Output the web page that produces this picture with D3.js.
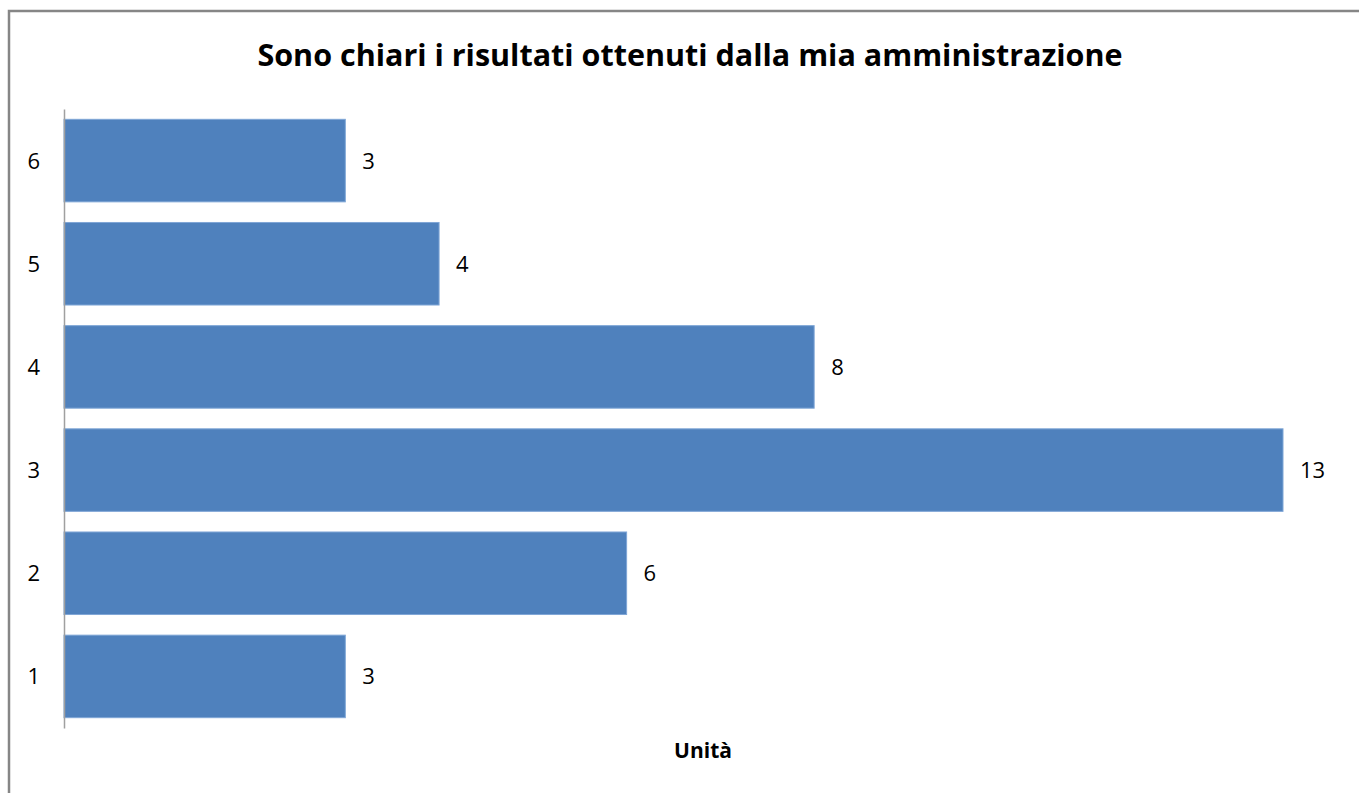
<!DOCTYPE html>
<html><head><meta charset="utf-8">
<script src="https://cdn.jsdelivr.net/npm/d3@7"></script>
<style>body{margin:0;background:#fff;} svg{display:block;}</style>
</head><body>
<svg id="chart" width="1359" height="793"></svg>
<script>
const categories = ["1","2","3","4","5","6"];
const values = [3,6,13,8,4,3];
const title = "Sono chiari i risultati ottenuti dalla mia amministrazione";
const axisTitle = "Unità";

(function(){
const svg = d3.select("#chart");
const W = 1359, H = 793;
const font = "'Open Sans', 'Liberation Sans', sans-serif";

svg.append("rect").attr("x",9).attr("y",11).attr("width",W).attr("height",H)
  .attr("fill","#fff").attr("stroke","#868686").attr("stroke-width",2.5);

const mLeft = 64, mRight = 1283, mTop = 109, mBottom = 728;
const x = d3.scaleLinear().domain([0,13]).range([mLeft,mRight]);
const y = d3.scaleBand().domain(categories.slice().reverse()).range([mTop,mBottom]).paddingInner(0.2).paddingOuter(0.1);

svg.append("text").attr("x",690).attr("y",66).attr("text-anchor","middle")
  .attr("font-family",font).attr("font-weight","bold").attr("font-size",30.5).attr("fill","#000").text(title);

svg.selectAll("rect.bar").data(values).join("rect").attr("class","bar")
  .attr("x",x(0)).attr("y",(d,i)=>y(categories[i]))
  .attr("width",d=>x(d)-x(0)).attr("height",y.bandwidth())
  .attr("fill","#4F81BD").attr("stroke","#7FA6D6").attr("stroke-width",1);

const yAxis = svg.append("g").attr("transform",`translate(${mLeft},0)`)
  .call(d3.axisLeft(y).tickSize(0).tickPadding(24));
yAxis.select(".domain").attr("stroke","#A0A0A0").attr("stroke-width",1.5);
yAxis.selectAll("text").attr("font-family",font).attr("font-size",22).attr("fill","#000").attr("dy","0.36em");

svg.selectAll("text.val").data(values).join("text").attr("class","val")
  .attr("x",d=>x(d)+17).attr("y",(d,i)=>y(categories[i])+y.bandwidth()/2)
  .attr("dy","0.36em").attr("font-family",font).attr("font-size",22).attr("fill","#000").text(d=>d);

svg.append("text").attr("x",703).attr("y",758).attr("text-anchor","middle")
  .attr("font-family",font).attr("font-weight","bold").attr("font-size",21).attr("fill","#000").text(axisTitle);
})();
</script>
</body></html>
